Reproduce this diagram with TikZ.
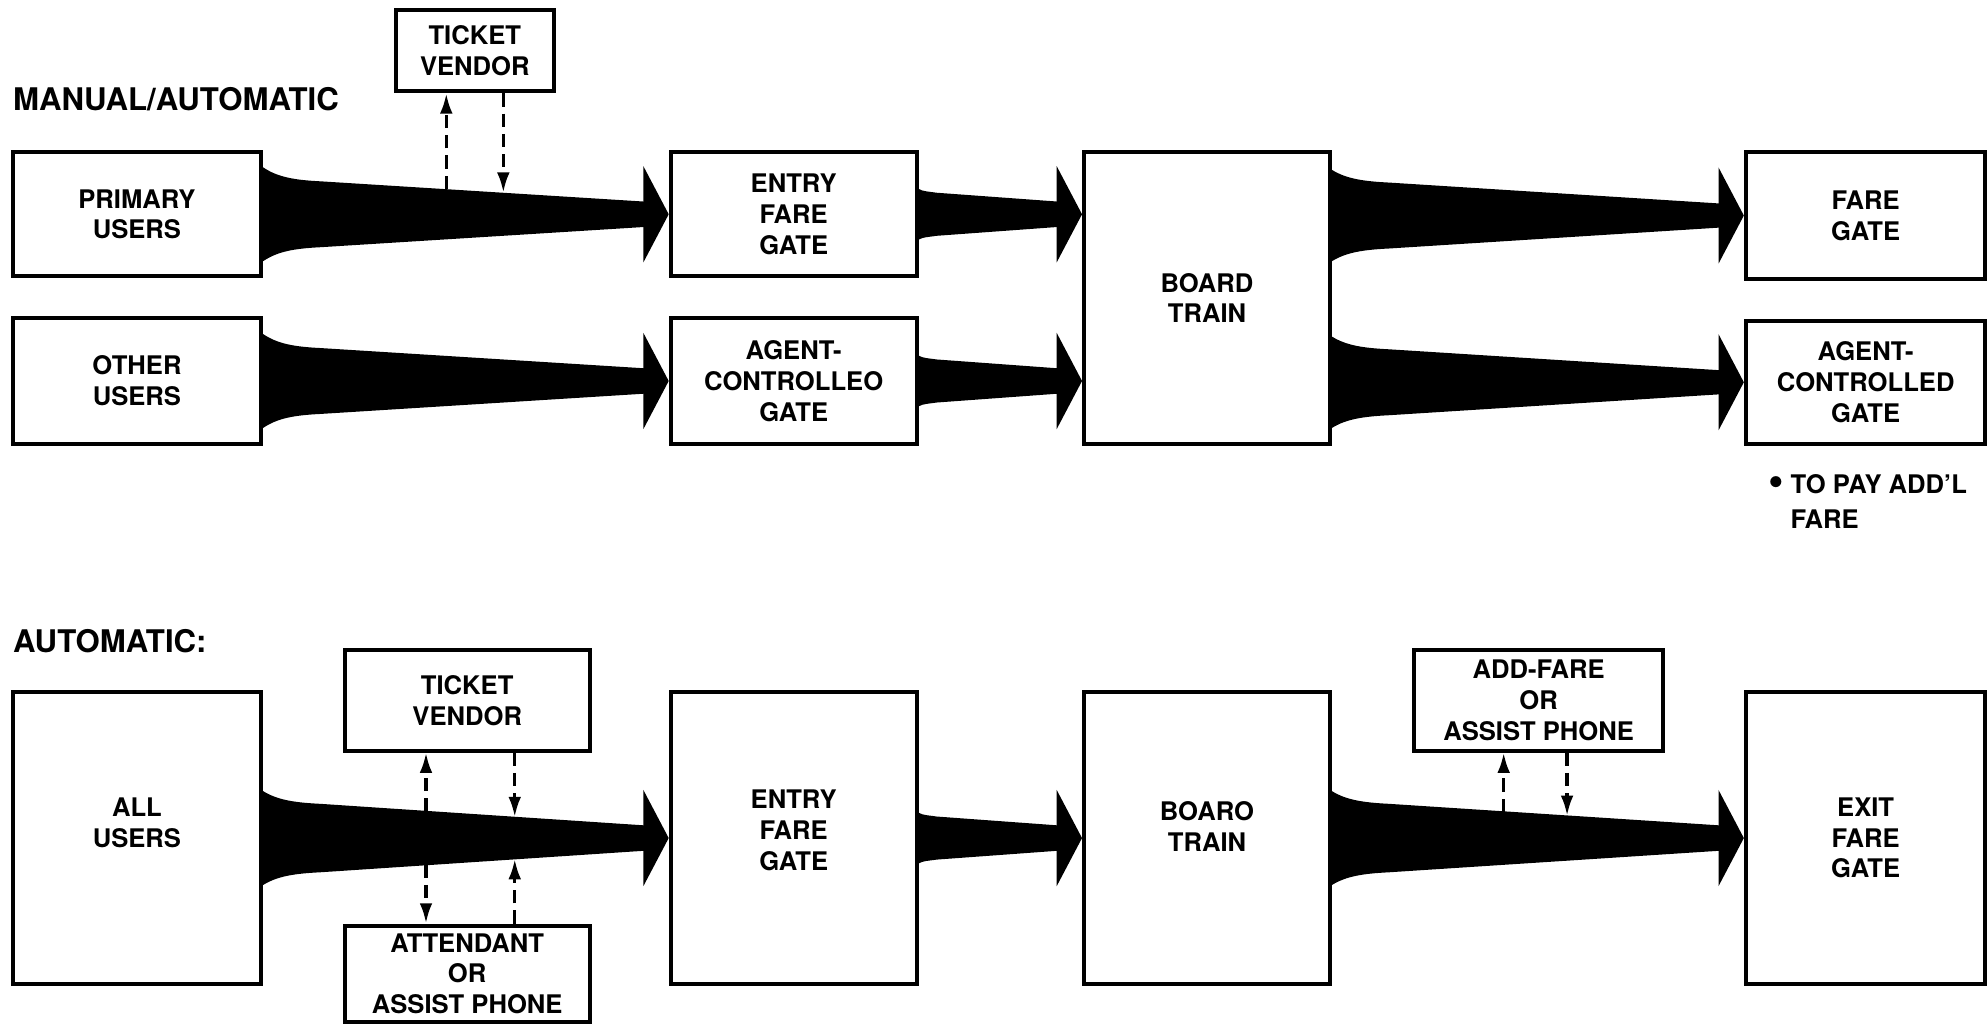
\documentclass[tikz,border=0pt]{standalone}
\usepackage{fontspec}
\setmainfont{TeX Gyre Heros}
\usetikzlibrary{calc,arrows.meta}
\newcommand\boxfont{\fontsize{11.5}{13.8}\selectfont\bfseries}
\newcommand\titlefont{\fontsize{14}{16}\selectfont\bfseries}
% #1 start point, #2 end point (tip), #3 start half height, #4 half height after flare, #5 half height at head, #6 flare length
\newcommand\myflow[6]{%
  \coordinate (fs) at #1;
  \coordinate (fe) at #2;
  \fill ($(fs)+(0,-#3)$) .. controls ($(fs)+(0.25*#6,-#4-0.3*#3+0.3*#4)$) and ($(fs)+(0.55*#6,-#4-1)$) .. ($(fs)+(#6,-#4)$)
     -- ($(fe)+(-19,-#5)$) -- ($(fe)+(-19,#5)$) -- ($(fs)+(#6,#4)$)
     .. controls ($(fs)+(0.55*#6,#4+1)$) and ($(fs)+(0.25*#6,#4+0.3*#3-0.3*#4)$) .. ($(fs)+(0,#3)$) -- cycle;
  \fill ($(fe)+(-20,-38)$) -- (fe) -- ($(fe)+(-20,38)$) -- cycle;
}
\begin{document}
\begin{tikzpicture}[x=0.02cm,y=-0.02cm,
  box/.style={draw,line width=1.8pt,inner sep=0pt,align=center,font=\boxfont},
  bx/.style n args={2}{box,minimum width=#1*0.02cm,minimum height=#2*0.02cm},
  title/.style={inner sep=0pt,font=\titlefont},
  dashline/.style={line width=1.5pt,dash pattern=on 0.21cm off 0.11cm,-{Latex[length=0.32cm,width=0.2cm]}}]
\useasboundingbox[fill=white] (0,0) rectangle (1568,808);

% ---- top section
\node[title,anchor=west] (t1) at (10,78) {MANUAL/AUTOMATIC};
\node[bx={125}{64}] (tv1) at (374.5,40) {TICKET\\VENDOR};
\node[bx={196}{98}] (pu) at (108,169) {PRIMARY\\USERS};
\node[bx={194}{98}] (efg1) at (626,169) {ENTRY\\FARE\\GATE};
\node[bx={194}{230}] (bt) at (952,235) {BOARD\\TRAIN};
\node[bx={189}{100}] (fg) at (1471.5,170) {FARE\\GATE};
\node[bx={196}{99}] (ou) at (108,300.5) {OTHER\\USERS};
\node[bx={194}{99}] (acg1) at (626,300.5) {AGENT-\\CONTROLLEO\\GATE};
\node[bx={189}{97}] (acg2) at (1471.5,301.5) {AGENT-\\CONTROLLED\\GATE};
\node[inner sep=0pt,anchor=north west,align=left,font=\fontsize{11.5}{15.5}\selectfont\bfseries] (note) at (1412,374) {\llap{\raisebox{-0.03cm}{\fontsize{20}{20}\selectfont•}\hspace{0.1cm}}TO PAY ADD'L\\FARE};

\myflow{(pu.east |- efg1.west)}{(efg1.west)}{37}{26}{10}{45}
\myflow{(efg1.east)}{(bt.west |- efg1.east)}{20}{17}{10}{14}
\myflow{(bt.east |- fg.west)}{(fg.west)}{36}{26}{9.5}{45}
\myflow{(ou.east |- acg1.west)}{(acg1.west)}{37}{26}{10}{45}
\myflow{(acg1.east)}{(bt.west |- acg1.east)}{20}{17}{10}{14}
\myflow{(bt.east |- acg2.west)}{(acg2.west)}{36}{26}{9.5}{45}

\coordinate (p1) at (352,149);
\coordinate (p2) at (397,152);
\draw[dashline] (p1) -- (p1 |- tv1.south);
\draw[dashline] (p2 |- tv1.south) -- (p2);

% ---- bottom section
\node[title,anchor=west] (t2) at (10,506) {AUTOMATIC:};
\node[bx={193}{79}] (tv2) at (368.5,552.5) {TICKET\\VENDOR};
\node[bx={196}{230},label={[font=\boxfont,align=center,yshift=0.24cm]center:ALL\\USERS}] (au) at (108,661) {};
\node[bx={193}{76}] (att) at (368.5,768) {ATTENDANT\\OR\\ASSIST PHONE};
\node[bx={194}{230},label={[font=\boxfont,align=center,yshift=0.12cm]center:ENTRY\\FARE\\GATE}] (efg2) at (626,661) {};
\node[bx={194}{230},label={[font=\boxfont,align=center,yshift=0.18cm]center:BOARO\\TRAIN}] (bt2) at (952,661) {};
\node[bx={197}{79}] (af) at (1213.5,552.5) {ADD-FARE\\OR\\ASSIST PHONE};
\node[bx={189}{230}] (efg3) at (1471.5,661) {EXIT\\FARE\\GATE};

\myflow{(au.east)}{(efg2.west)}{37}{27}{10}{45}
\myflow{(efg2.east)}{(bt2.west)}{20}{17}{10}{14}
\myflow{(bt2.east)}{(efg3.west)}{37}{27}{10}{45}

\coordinate (q1) at (336,640);
\coordinate (q1b) at (336,682);
\coordinate (q2) at (406,644.5);
\coordinate (q2b) at (406,677.5);
\draw[dashline] (q1) -- (q1 |- tv2.south);
\draw[dashline] (q1b) -- (q1b |- att.north);
\draw[dashline] (q2 |- tv2.south) -- (q2);
\draw[dashline] (q2b |- att.north) -- (q2b);

\coordinate (r1) at (1186,640.5);
\coordinate (r2) at (1236,643.5);
\draw[dashline] (r1) -- (r1 |- af.south);
\draw[dashline] (r2 |- af.south) -- (r2);
\end{tikzpicture}
\end{document}
